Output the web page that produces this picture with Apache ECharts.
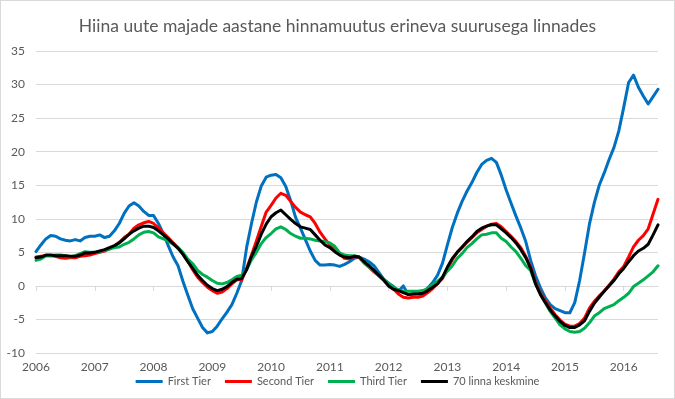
<!DOCTYPE html>
<html>
<head>
<meta charset="utf-8">
<script src="https://cdn.jsdelivr.net/npm/echarts@6/dist/echarts.min.js"></script>
<style>
  html, body { margin: 0; padding: 0; background: #fff; }
  #main { width: 675px; height: 399px; box-sizing: border-box; border: 1px solid #d9d9d9; }
</style>
</head>
<body>
<div id="main"></div>
<script>
var myChart = echarts.init(document.getElementById('main'));

// months 2006-01 .. 2016-08
var months = [];
for (var y = 2006; y <= 2016; y++) {
    for (var m = 1; m <= 12; m++) {
        if (y === 2016 && m > 8) break;
        months.push(y + '-' + (m < 10 ? '0' + m : m));
    }
}

var firstTier = [
    5.1, 6.1, 7.0, 7.5, 7.4, 7.0, 6.8, 6.7, 6.9, 6.7, 7.2, 7.4,
    7.4, 7.6, 7.2, 7.4, 8.2, 9.3, 10.8, 11.9, 12.4, 11.9, 11.1, 10.5,
    10.5, 9.3, 7.8, 6.0, 4.3, 3.0, 0.7, -1.4, -3.4, -4.8, -6.2, -7.0,
    -6.8, -6.0, -4.9, -3.9, -2.8, -1.1, 0.8, 5.7, 9.3, 12.5, 14.9, 16.2,
    16.5, 16.6, 16.1, 14.8, 12.7, 10.2, 8.6, 6.9, 5.2, 3.8, 3.1, 3.1,
    3.2, 3.1, 2.9, 3.2, 3.6, 4.1, 4.3, 4.0, 3.6, 3.0, 2.0, 1.0,
    0.4, -0.1, -0.8, 0.0, -1.3, -1.2, -1.1, -1.0, -0.3, 0.5, 1.6, 3.4,
    6.1, 8.7, 10.8, 12.6, 14.1, 15.4, 16.9, 18.1, 18.7, 19.0, 18.4, 16.5,
    14.3, 12.3, 10.4, 8.6, 6.6, 3.8, 1.5, -0.3, -1.8, -2.8, -3.4, -3.7,
    -4.0, -4.0, -2.5, 0.8, 4.9, 9.2, 12.4, 15.0, 16.8, 18.8, 20.6, 23.1,
    26.6, 30.3, 31.4, 29.6, 28.3, 27.1, 28.2, 29.3
];
var secondTier = [
    4.3, 4.4, 4.5, 4.5, 4.4, 4.2, 4.1, 4.2, 4.2, 4.4, 4.5, 4.6,
    4.8, 5.0, 5.2, 5.5, 5.9, 6.5, 7.2, 7.7, 8.6, 9.1, 9.4, 9.6,
    9.3, 8.6, 7.9, 7.2, 6.4, 5.7, 4.8, 3.7, 2.4, 1.3, 0.5, -0.2,
    -0.7, -1.1, -0.9, -0.4, 0.3, 0.9, 0.9, 2.6, 4.6, 6.7, 8.9, 11.0,
    12.0, 13.1, 13.8, 13.5, 12.6, 11.7, 11.0, 10.6, 10.3, 9.3, 8.0, 7.0,
    6.1, 5.4, 4.8, 4.1, 4.0, 4.4, 4.2, 3.4, 2.8, 2.1, 1.5, 0.8,
    0.0, -0.5, -1.2, -1.7, -1.8, -1.7, -1.7, -1.5, -1.0, -0.4, 0.4, 1.1,
    2.5, 3.9, 5.0, 5.7, 6.5, 7.2, 7.9, 8.4, 8.9, 9.2, 9.3, 8.8,
    8.1, 7.4, 6.6, 5.7, 4.4, 2.8, 0.6, -1.0, -2.2, -3.3, -4.3, -5.1,
    -5.7, -6.0, -6.0, -5.6, -4.8, -3.3, -2.3, -1.5, -0.8, 0.1, 1.0, 2.1,
    2.9, 4.3, 5.8, 6.8, 7.5, 8.5, 10.7, 12.9
];
var thirdTier = [
    3.8, 4.0, 4.5, 4.5, 4.6, 4.6, 4.5, 4.3, 4.5, 4.8, 5.1, 5.0,
    5.0, 5.1, 5.3, 5.5, 5.7, 5.8, 6.2, 6.5, 7.0, 7.6, 8.0, 8.1,
    7.9, 7.3, 7.0, 6.7, 6.2, 5.7, 5.0, 4.0, 3.3, 2.3, 1.7, 1.3,
    0.8, 0.4, 0.3, 0.5, 0.9, 1.4, 1.6, 2.4, 3.9, 5.0, 6.3, 7.2,
    7.8, 8.5, 8.8, 8.4, 7.8, 7.4, 7.1, 7.1, 7.0, 6.8, 6.7, 6.6,
    6.4, 5.9, 4.9, 4.6, 4.5, 4.5, 4.3, 3.5, 2.8, 2.2, 1.6, 0.9,
    0.3, -0.2, -0.6, -0.8, -0.8, -0.8, -0.8, -0.7, -0.4, 0.2, 0.7, 1.3,
    2.2, 3.0, 4.1, 4.8, 5.7, 6.3, 7.0, 7.6, 7.7, 7.9, 7.9, 7.1,
    6.6, 5.8, 5.1, 4.1, 3.0, 2.3, 0.3, -1.2, -2.5, -3.8, -4.8, -5.8,
    -6.4, -6.8, -6.9, -6.8, -6.3, -5.5, -4.5, -4.0, -3.4, -3.1, -2.8, -2.2,
    -1.7, -1.1, -0.1, 0.4, 0.9, 1.5, 2.1, 3.0
];
var avg70 = [
    4.2, 4.3, 4.6, 4.6, 4.5, 4.5, 4.5, 4.4, 4.4, 4.6, 4.9, 4.9,
    5.0, 5.2, 5.4, 5.7, 6.0, 6.4, 7.0, 7.7, 8.2, 8.6, 8.9, 8.9,
    8.7, 8.2, 7.6, 7.0, 6.3, 5.6, 4.7, 3.6, 2.6, 1.6, 0.8, 0.1,
    -0.4, -0.7, -0.5, -0.1, 0.5, 1.0, 1.1, 2.4, 4.4, 5.9, 7.7, 9.2,
    10.3, 10.9, 11.3, 10.6, 9.9, 9.3, 8.8, 8.6, 8.4, 7.6, 6.8, 6.1,
    5.7, 5.1, 4.6, 4.3, 4.2, 4.4, 4.3, 3.6, 3.0, 2.3, 1.6, 0.9,
    0.0, -0.5, -0.7, -1.0, -1.3, -1.2, -1.2, -1.1, -0.7, -0.2, 0.3, 1.3,
    2.8, 4.1, 5.0, 5.8, 6.6, 7.3, 8.1, 8.6, 8.9, 9.1, 9.1, 8.5,
    7.9, 7.2, 6.4, 5.4, 4.2, 2.6, 0.3, -1.3, -2.5, -3.6, -4.5, -5.3,
    -5.9, -6.2, -6.2, -5.8, -5.2, -3.8, -2.6, -1.7, -0.8, 0.0, 0.8, 1.8,
    2.6, 3.6, 4.5, 5.2, 5.6, 6.2, 7.6, 9.1
];

var seriesNames = ['First Tier', 'Second Tier', 'Third Tier', '70 linna keskmine'];
var seriesColors = ['#0070C0', '#FF0000', '#00B050', '#000000'];
var seriesData = [firstTier, secondTier, thirdTier, avg70];

var textColor = '#595959';
var gridColor = '#D9D9D9';
var fontFamily = 'Lato, "Open Sans", sans-serif';

function isYearStart(index) {
    return index % 12 === 0;
}

var option = {
    backgroundColor: '#ffffff',
    animation: false,
    textStyle: { fontFamily: fontFamily },
    title: {
        text: 'Hiina uute majade aastane hinnamuutus erineva suurusega linnades',
        left: 'center',
        top: 11,
        textStyle: {
            fontSize: 17.5,
            fontWeight: 'normal',
            color: textColor,
            fontFamily: fontFamily,
        },
    },
    grid: {
        left: 35,
        right: 16,
        top: 50,
        bottom: 45,
    },
    legend: {
        top: 370,
        left: 'center',
        itemGap: 14,
        itemWidth: 27,
        itemHeight: 3,
        icon: 'rect',
        textStyle: {
            fontSize: 11,
            color: textColor,
            fontFamily: fontFamily,
        },
        data: seriesNames,
    },
    xAxis: {
        type: 'category',
        boundaryGap: false,
        data: months,
        axisLine: {
            onZero: true,
            lineStyle: { color: gridColor, width: 1 },
        },
        axisTick: {
            show: true,
            interval: isYearStart,
            length: 5,
            lineStyle: { color: gridColor },
        },
        axisLabel: {
            interval: isYearStart,
            formatter: function (v) { return v.slice(0, 4); },
            color: textColor,
            fontSize: 12,
            margin: 8,
        },
        splitLine: { show: false },
    },
    yAxis: {
        type: 'value',
        min: -10,
        max: 35,
        interval: 5,
        axisLine: { show: false },
        axisTick: { show: false },
        axisLabel: {
            color: textColor,
            fontSize: 12,
            margin: 11,
        },
        splitLine: {
            lineStyle: { color: gridColor, width: 1 },
        },
    },
    series: seriesNames.map(function (name, k) {
        return {
            name: name,
            type: 'line',
            data: seriesData[k],
            showSymbol: false,
            symbol: 'none',
            color: seriesColors[k],
            lineStyle: {
                color: seriesColors[k],
                width: 3,
                cap: 'round',
                join: 'round',
            },
            z: 2 + k,
        };
    }),
};
myChart.setOption(option);
</script>
</body>
</html>
